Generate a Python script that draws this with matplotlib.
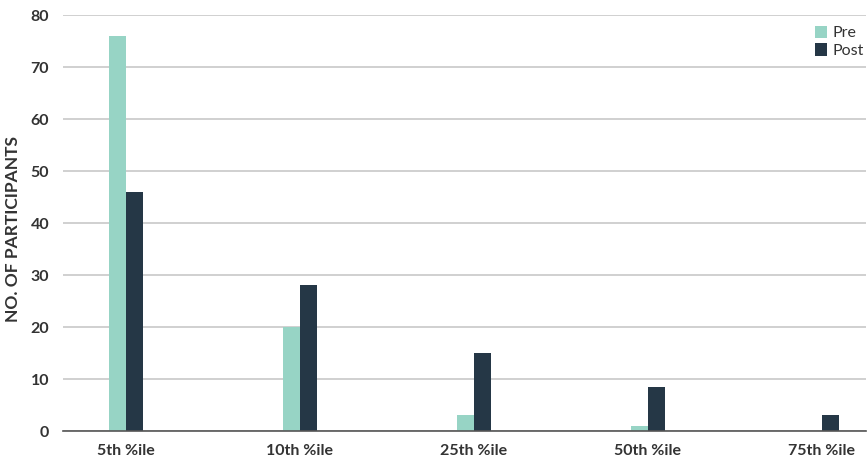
import matplotlib
matplotlib.use('Agg')
import matplotlib.pyplot as plt
import numpy as np

# values
categories = ['5th %ile', '10th %ile', '25th %ile', '50th %ile', '75th %ile']
pre = [76, 20, 3, 1, 0]
post = [46, 28, 15, 8.5, 3]

plt.rcParams['font.family'] = ['Lato', 'DejaVu Sans']

fig = plt.figure(figsize=(8.68, 4.65), dpi=100)
ax = fig.add_axes([0.0726, 0.0731, 0.925, 0.8946])

x = np.arange(len(categories))
w = 0.098
ax.bar(x - w / 2, pre, w, color='#97d4c5', label='Pre', zorder=3)
ax.bar(x + w / 2, post, w, color='#253746', label='Post', zorder=3)

ax.set_ylim(0, 80)
ax.set_yticks(range(0, 81, 10))
ax.set_xlim(-0.362, 4.253)
ax.set_xticks(x)
ax.set_xticklabels(categories)
ax.yaxis.grid(True, color='#c8c8c8', linewidth=1.2, zorder=0)
for s in ['top', 'right', 'left']:
    ax.spines[s].set_visible(False)
ax.spines['bottom'].set_color('#555555')
ax.spines['bottom'].set_linewidth(1.2)
ax.spines['bottom'].set_zorder(4)
ax.tick_params(length=0, labelsize=11.5, colors='#333333', pad=9)
for t in ax.get_xticklabels() + ax.get_yticklabels():
    t.set_fontweight('bold')
ax.tick_params(axis='y', pad=10)

ax.set_ylabel('NO. OF PARTICIPANTS', fontsize=12.5, fontweight='bold', color='#333333')
ax.yaxis.set_label_coords(-0.052, 0.485)

leg = ax.legend(loc='upper right', bbox_to_anchor=(1.005, 0.99), frameon=False, fontsize=11.5,
                handlelength=0.8, handleheight=0.8, handletextpad=0.3, labelspacing=0.2,
                borderaxespad=0)
for t in leg.get_texts():
    t.set_color('#333333')

fig.savefig('out.png', dpi=100)
